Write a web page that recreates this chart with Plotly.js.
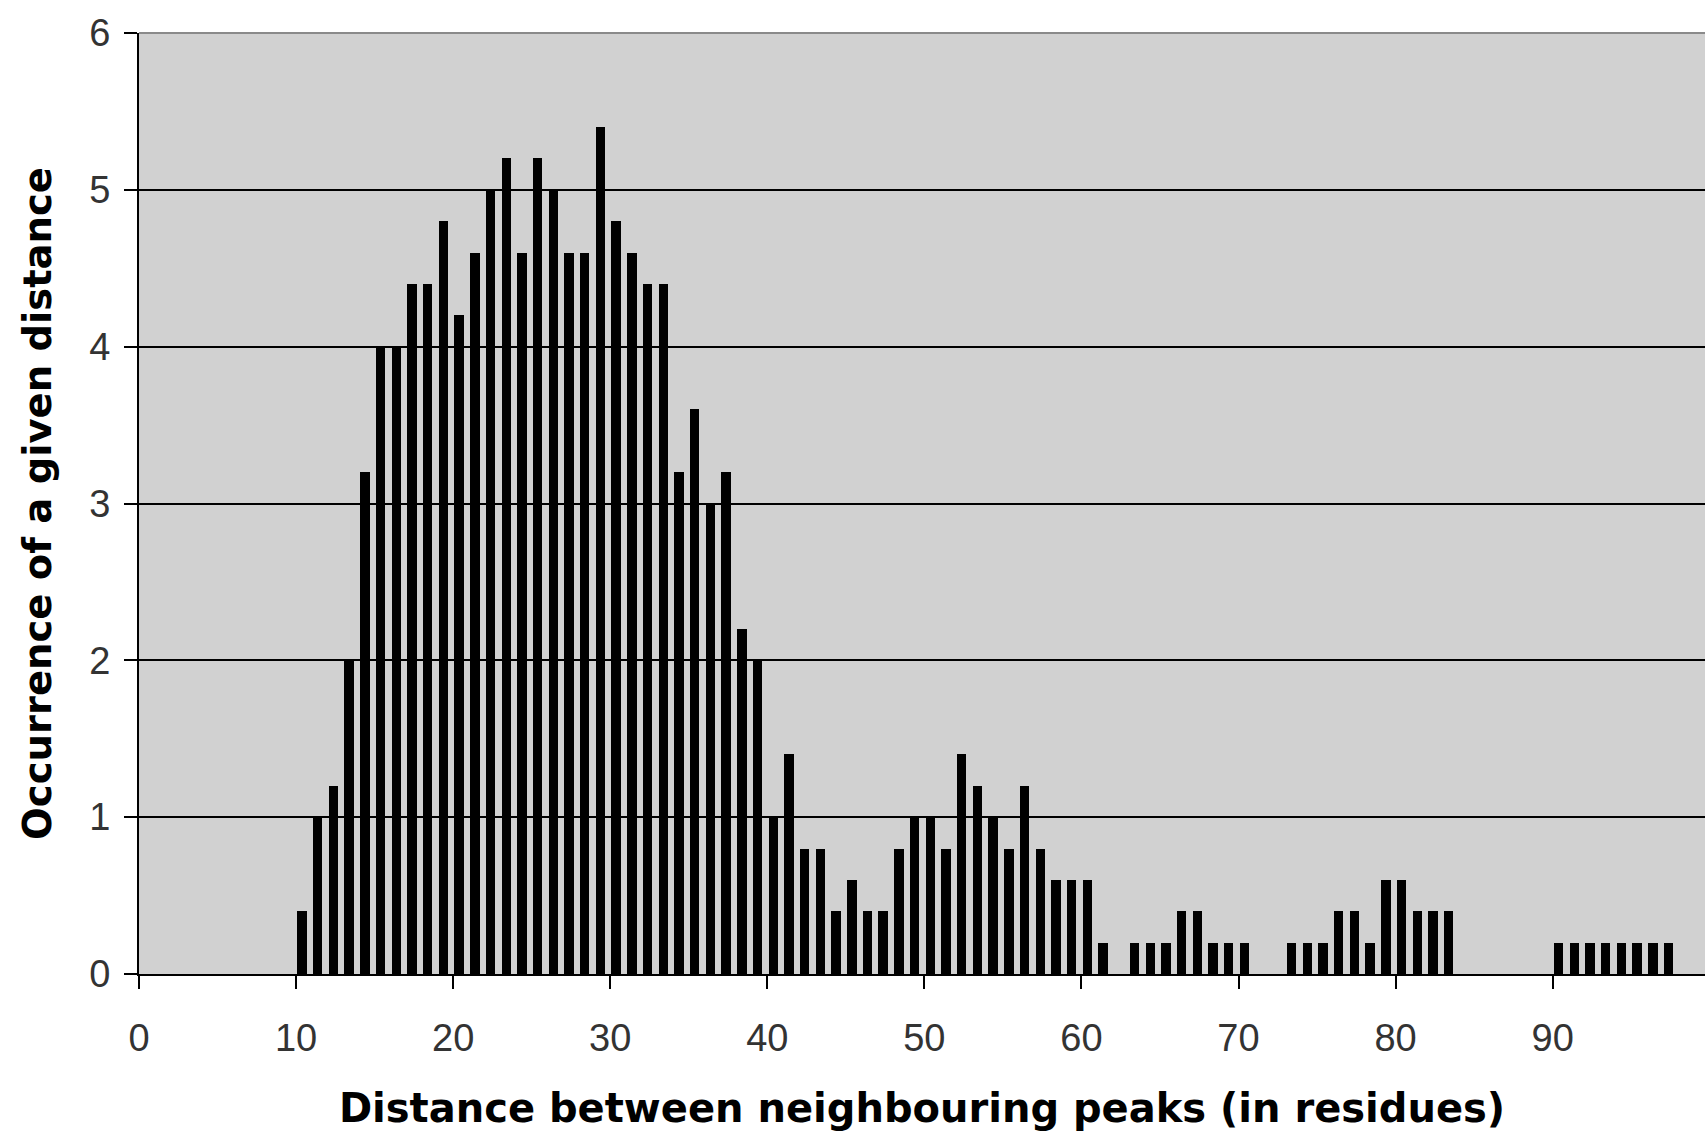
<!DOCTYPE html>
<html>
<head>
<meta charset="utf-8">
<script src="https://cdn.plot.ly/plotly-3.0.1.min.js"></script>
<style>
  html, body { margin: 0; padding: 0; background: #ffffff; }
  #chart { width: 1705px; height: 1132px; }
</style>
</head>
<body>
<div id="chart"></div>
<script>
// Distance bins (residues) and occurrence values
const distanceBins = [
  10, 11, 12, 13, 14, 15, 16, 17, 18, 19,
  20, 21, 22, 23, 24, 25, 26, 27, 28, 29,
  30, 31, 32, 33, 34, 35, 36, 37, 38, 39,
  40, 41, 42, 43, 44, 45, 46, 47, 48, 49,
  50, 51, 52, 53, 54, 55, 56, 57, 58, 59,
  60, 61, 62, 63, 64, 65, 66, 67, 68, 69,
  70, 71, 72, 73, 74, 75, 76, 77, 78, 79,
  80, 81, 82, 83, 84, 85, 86, 87, 88, 89,
  90, 91, 92, 93, 94, 95, 96, 97
];
const occurrence = [
  0.4, 1.0, 1.2, 2.0, 3.2, 4.0, 4.0, 4.4, 4.4, 4.8,
  4.2, 4.6, 5.0, 5.2, 4.6, 5.2, 5.0, 4.6, 4.6, 5.4,
  4.8, 4.6, 4.4, 4.4, 3.2, 3.6, 3.0, 3.2, 2.2, 2.0,
  1.0, 1.4, 0.8, 0.8, 0.4, 0.6, 0.4, 0.4, 0.8, 1.0,
  1.0, 0.8, 1.4, 1.2, 1.0, 0.8, 1.2, 0.8, 0.6, 0.6,
  0.6, 0.2, 0.0, 0.2, 0.2, 0.2, 0.4, 0.4, 0.2, 0.2,
  0.2, 0.0, 0.0, 0.2, 0.2, 0.2, 0.4, 0.4, 0.2, 0.6,
  0.6, 0.4, 0.4, 0.4, 0.0, 0.0, 0.0, 0.0, 0.0, 0.0,
  0.2, 0.2, 0.2, 0.2, 0.2, 0.2, 0.2, 0.2
];
const xTickValues = [0, 10, 20, 30, 40, 50, 60, 70, 80, 90];
const yTickValues = [0, 1, 2, 3, 4, 5, 6];

const xTitle = 'Distance between neighbouring peaks (in residues)';
const yTitle = 'Occurrence of a given distance';

const tickFont = { family: 'Liberation Sans Narrow, Liberation Sans, Arial, sans-serif', size: 38, color: '#333333' };
const xTitleFont = { family: 'DejaVu Sans, Verdana, sans-serif', size: 40, color: '#000000', weight: 'bold' };
const yTitleFont = { family: 'DejaVu Sans, Verdana, sans-serif', size: 38.5, color: '#000000', weight: 'bold' };

const trace = {
  type: 'bar',
  x: distanceBins,
  y: occurrence,
  width: 0.6,
  offset: 0.08,
  marker: { color: '#000000', line: { width: 0 } },
  hoverinfo: 'x+y'
};

const layout = {
  width: 1705,
  height: 1132,
  margin: { l: 139, r: 0, t: 33, b: 158, pad: 0 },
  paper_bgcolor: '#ffffff',
  plot_bgcolor: '#d1d1d1',
  showlegend: false,
  bargap: 0,
  xaxis: {
    range: [0, 99.7],
    tickmode: 'array',
    tickvals: xTickValues,
    ticktext: xTickValues.map(String),
    ticks: 'outside',
    ticklen: 13,
    tickwidth: 2,
    tickcolor: '#000000',
    showgrid: false,
    zeroline: false,
    showline: true,
    linecolor: '#000000',
    linewidth: 2,
    tickfont: tickFont,
    ticklabelstandoff: 16,
    automargin: false,
    title: { text: xTitle, font: xTitleFont, standoff: 36 }
  },
  yaxis: {
    range: [0, 6],
    tickmode: 'array',
    tickvals: yTickValues,
    ticktext: yTickValues.map(String),
    ticks: 'outside',
    ticklen: 13,
    tickwidth: 2,
    tickcolor: '#000000',
    showgrid: true,
    gridcolor: '#000000',
    gridwidth: 2,
    zeroline: false,
    showline: true,
    linecolor: '#000000',
    linewidth: 2,
    tickfont: tickFont,
    ticklabelstandoff: 6,
    automargin: false,
    title: { text: yTitle, font: yTitleFont, standoff: 26 }
  },
  shapes: [
    {
      type: 'line', xref: 'paper', yref: 'paper',
      x0: 0, x1: 1, y0: 1, y1: 1,
      line: { color: '#8a8a8a', width: 2 }
    }
  ]
};

Plotly.newPlot('chart', [trace], layout, { displayModeBar: false, staticPlot: true });
</script>
</body>
</html>
